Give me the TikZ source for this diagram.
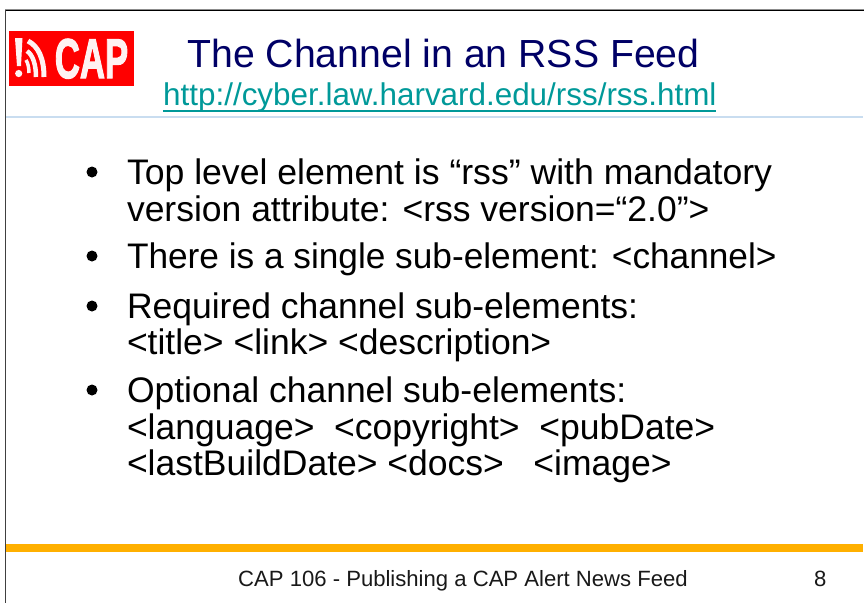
\documentclass[tikz,border=0pt]{standalone}
\usepackage{fontspec}
\setmainfont{Liberation Sans}
\newfontfamily\capfont[FakeBold=2.5]{Liberation Sans Bold}
\definecolor{titleblue}{HTML}{000066}
\definecolor{linkteal}{HTML}{009999}
\definecolor{rulegold}{HTML}{FFB000}
\definecolor{ruleblue}{HTML}{C9DDF0}
\definecolor{logowhite}{HTML}{FFF2F2}
\tikzset{
  bodytext/.style={anchor=base west,inner sep=0pt,outer sep=0pt,font=\fontsize{35.5}{37}\selectfont,text=black},
  bulletmark/.style={circle,fill=black,minimum size=11pt,inner sep=0pt},
  foot/.style={anchor=base west,inner sep=0pt,font=\fontsize{22.1}{24}\selectfont,text=black!90}
}
\begin{document}
\begin{tikzpicture}[x=1pt,y=-1pt]
\useasboundingbox (0,0) rectangle (864,603);
\fill[white] (0,0) rectangle (864,603);
% frame
\draw[black!45,line width=1pt] (5,9.5) -- (864,9.5);
\draw[black,line width=1.4pt] (5.5,10.5) -- (864,10.5);
\draw[black!75,line width=1.4pt] (5.5,10) -- (5.5,603);
% rules
\fill[ruleblue] (6,116) rectangle (863,118);
\fill[rulegold] (6,544) rectangle (863,552);
% logo
\fill[red] (9,31) rectangle (133.5,86);
\node[anchor=base,inner sep=0pt,text=logowhite,font=\fontsize{56}{56}\capfont,xscale=0.62] (logo) at (91.5,78) {CAP};
\fill[logowhite] (15,38) -- (22.5,38) -- (21,66) -- (17,66) -- cycle;
\fill[logowhite] (18.7,73.5) circle (3.6);
\draw[logowhite,line width=5pt] (28,41) .. controls (38,46) and (44,58) .. (44,77);
\draw[logowhite,line width=4.5pt] (27,51) .. controls (33,55) and (36,65) .. (36,77);
\draw[logowhite,line width=3.5pt] (26,60) .. controls (28,63) and (29,68) .. (29,73);
% title
\node[anchor=base,inner sep=0pt,text=titleblue,font=\fontsize{39.2}{42}\selectfont] (title) at (443.5,67) {The Channel in an RSS Feed};
\node[anchor=base west,inner sep=0pt,text=linkteal,font=\fontsize{31.4}{34}\selectfont] (url) at (163,105) {http://cyber.law.harvard.edu/rss/rss.html};
\fill[linkteal] (163,110) rectangle (716,112);
% bullets
\node[bulletmark] (b1) at (92,172) {};
\node[bodytext,xscale=1.003] at (127,184) {Top level element is “rss” with mandatory};
\node[bodytext] at (127,221) {version attribute: <rss version=“2.0”>};
\node[bulletmark] (b2) at (92,256) {};
\node[bodytext,xscale=0.9925] at (127,268) {There is a single sub-element: <channel>};
\node[bulletmark] (b3) at (92,306) {};
\node[bodytext] at (127,318) {Required channel sub-elements:};
\node[bodytext] at (127,354) {<title> <link> <description>};
\node[bulletmark] (b4) at (92,390) {};
\node[bodytext] at (127,402) {Optional channel sub-elements:};
\node[bodytext] at (127,439) {<language>\ \ <copyright>\ \ <pubDate>};
\node[bodytext] at (127,475.5) {<lastBuildDate> <docs>\ \ \ <image>};
% footer
\node[foot] (ft) at (238,586) {CAP 106 - Publishing a CAP Alert News Feed};
\node[foot] (pg) at (814,586) {8};
\end{tikzpicture}
\end{document}
